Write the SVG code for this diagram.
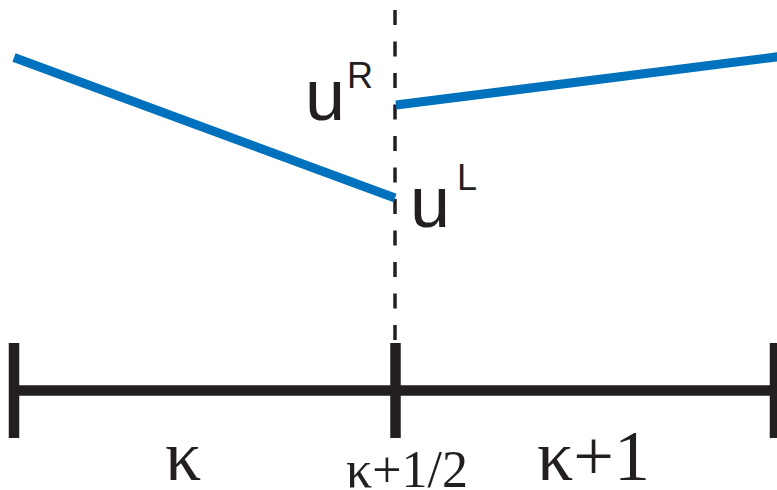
<svg xmlns="http://www.w3.org/2000/svg" width="777" height="490" viewBox="0 0 777 490">
<style>
.blue{stroke:#0071bc;stroke-width:9;fill:none}
.axis{stroke:#231f20;stroke-width:10.5;fill:none}
.dash{stroke:#231f20;stroke-width:3.5;stroke-dasharray:15 16.5;fill:none}
.sans{font-family:"Liberation Sans",Arial,sans-serif;fill:#231f20}
.serif{font-family:"Liberation Serif","Times New Roman",serif;fill:#231f20}
</style>
<rect width="777" height="490" fill="#ffffff"/>
<g id="connectors">
<line class="dash" x1="395" y1="10" x2="395" y2="345"/>
<line class="axis" x1="14" y1="390.5" x2="775" y2="390.5"/>
</g>
<g id="ticks">
<line class="axis" x1="14" y1="343" x2="14" y2="438"/>
<line class="axis" x1="395.5" y1="343" x2="395.5" y2="438"/>
<line class="axis" x1="775" y1="343" x2="775" y2="438"/>
</g>
<g id="left-segment">
<line class="blue" x1="14" y1="57.5" x2="395" y2="198"/>
</g>
<g id="right-segment">
<line class="blue" x1="396" y1="105" x2="780" y2="56.5"/>
</g>
<g id="label-uR">
<text class="sans" x="305" y="120" font-size="72">u</text>
<text class="sans" x="347" y="88" font-size="36">R</text>
</g>
<g id="label-uL">
<text class="sans" x="410" y="227" font-size="72">u</text>
<text class="sans" x="457" y="190" font-size="36">L</text>
</g>
<g id="label-k">
<text class="serif" x="165" y="480" font-size="72">κ</text>
</g>
<g id="label-khalf">
<text class="serif" x="346" y="487" font-size="52">κ+1/2</text>
</g>
<g id="label-k1">
<text class="serif" x="537" y="480" font-size="72">κ+1</text>
</g>
</svg>
